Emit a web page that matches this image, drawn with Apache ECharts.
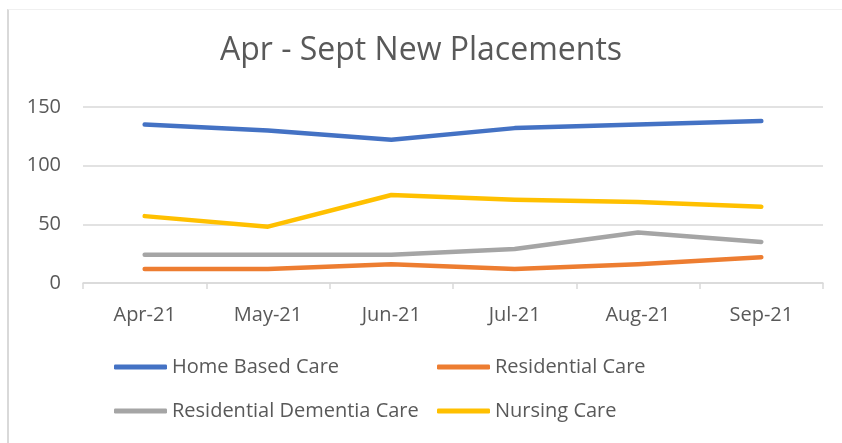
<!DOCTYPE html>
<html>
<head>
<meta charset="utf-8">
<script src="https://cdn.jsdelivr.net/npm/echarts@6/dist/echarts.min.js"></script>
<style>
  html, body { margin: 0; padding: 0; background: #fff; }
  #frame { position: absolute; left: 7px; top: 9px; width: 840px; height: 440px;
           border-left: 2px solid #d9d9d9; border-top: 1px solid #f0f0f0; }
  #chart { position: absolute; left: 0; top: 0; width: 842px; height: 443px; }
</style>
</head>
<body>
<div id="frame"></div>
<div id="chart"></div>
<script>
const months = ["Apr-21", "May-21", "Jun-21", "Jul-21", "Aug-21", "Sep-21"];
const homeBased = [135, 130, 122, 132, 135, 138];
const residential = [12, 12, 16, 12, 16, 22];
const dementia = [24, 24, 24, 29, 43, 35];
const nursing = [57, 48, 75, 71, 69, 65];
const yTicks = [0, 50, 100, 150];

const font = "'Open Sans', Lato, sans-serif";
const grey = "#595959";

function lineSeries(name, data, color) {
  return {
    name: name,
    type: "line",
    data: data,
    symbol: "none",
    color: color,
    itemStyle: { color: color },
    lineStyle: { width: 4.5, color: color, cap: "round", join: "round" }
  };
}

function legendColumn(names, left) {
  return {
    data: names,
    orient: "vertical",
    left: left,
    top: 350,
    icon: "roundRect",
    itemWidth: 53,
    itemHeight: 5,
    itemGap: 20,
    textStyle: { fontFamily: font, fontSize: 20, lineHeight: 24, color: grey }
  };
}

const chart = echarts.init(document.getElementById("chart"));
chart.setOption({
  animation: false,
  textStyle: { fontFamily: font },
  title: {
    text: "Apr - Sept New Placements",
    left: "center",
    top: 30,
    textStyle: { fontFamily: font, fontSize: 32, fontWeight: "normal", color: grey }
  },
  legend: [
    legendColumn(["Home Based Care", "Residential Dementia Care"], 109),
    legendColumn(["Residential Care", "Nursing Care"], 432)
  ],
  grid: { left: 83, right: 19, top: 107, bottom: 160, containLabel: false },
  xAxis: {
    type: "category",
    data: months,
    boundaryGap: true,
    axisLine: { lineStyle: { color: "#d9d9d9", width: 1.5 } },
    axisTick: { show: true, length: 6, lineStyle: { color: "#d9d9d9", width: 1.5 } },
    axisLabel: { fontFamily: font, fontSize: 20, color: grey, margin: 22 }
  },
  yAxis: {
    type: "value",
    min: yTicks[0],
    max: yTicks[yTicks.length - 1],
    interval: 50,
    axisLine: { show: false },
    axisTick: { show: false },
    splitLine: { lineStyle: { color: "#d9d9d9", width: 1.5 } },
    axisLabel: { fontFamily: font, fontSize: 20, color: grey, margin: 22 }
  },
  series: [
    lineSeries("Home Based Care", homeBased, "#4472C4"),
    lineSeries("Residential Care", residential, "#ED7D31"),
    lineSeries("Residential Dementia Care", dementia, "#A5A5A5"),
    lineSeries("Nursing Care", nursing, "#FFC000")
  ]
});
</script>
</body>
</html>
